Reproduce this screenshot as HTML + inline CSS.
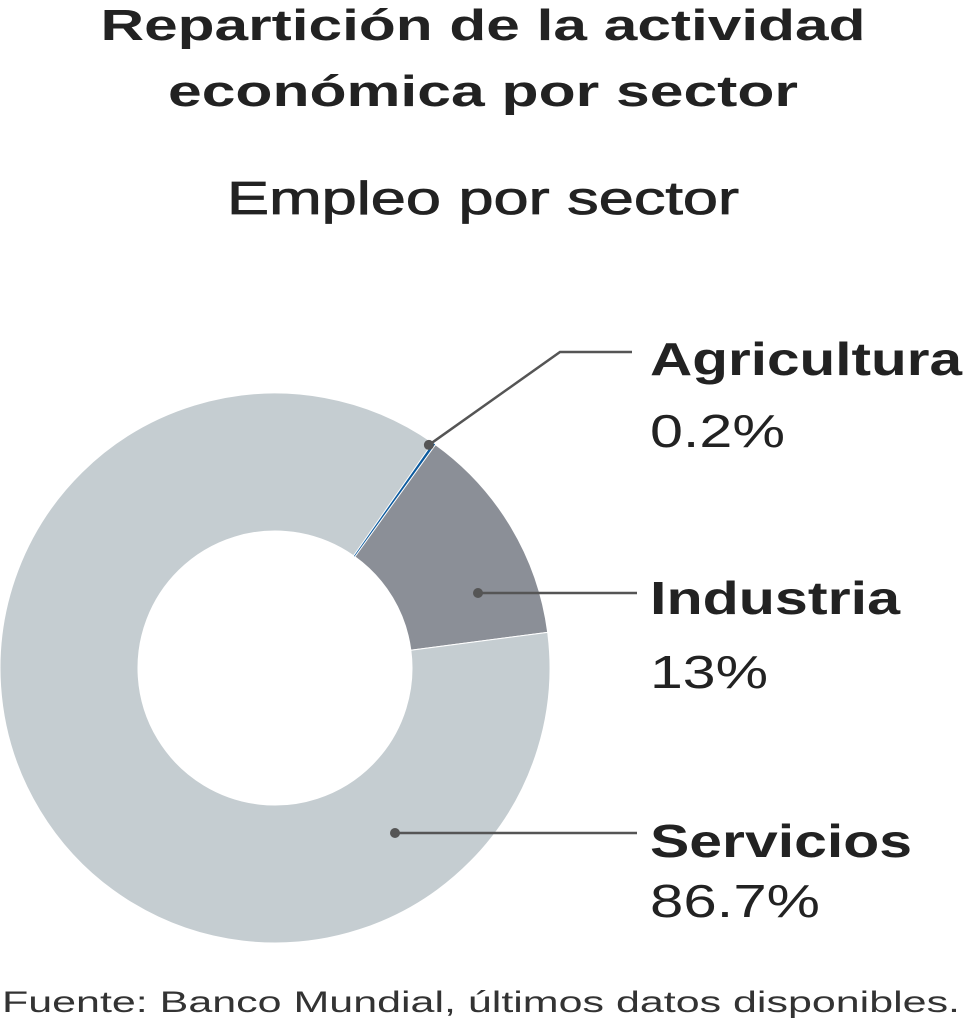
<!DOCTYPE html>
<html><head><meta charset="utf-8"><style>
html,body{margin:0;padding:0;background:#fff;}
svg{display:block;font-family:"Liberation Sans",sans-serif;}
</style></head><body>
<svg id="chart" width="963" height="1024" viewBox="0 0 963 1024">
<text x="483" y="40" text-anchor="middle" font-size="44" font-weight="bold" fill="#222" textLength="765" lengthAdjust="spacingAndGlyphs">Repartición de la actividad</text>
<text x="483" y="106" text-anchor="middle" font-size="44" font-weight="bold" fill="#222" textLength="630" lengthAdjust="spacingAndGlyphs">económica por sector</text>
<text x="483" y="214" text-anchor="middle" font-size="46" fill="#222" stroke="#222" stroke-width="0.8" textLength="512" lengthAdjust="spacingAndGlyphs">Empleo por sector</text>
<g id="slices"></g>
<g id="labels"></g>
<text x="2" y="1012" font-size="30" fill="#333" textLength="958" lengthAdjust="spacingAndGlyphs">Fuente: Banco Mundial, últimos datos disponibles.</text>
</svg>
<script>
const categories = ["Agricultura", "Industria", "Servicios"];
const values = [0.2, 13, 86.7];
const valueLabels = ["0.2%", "13%", "86.7%"];
const colors = ["#0b5a9e", "#8b8f97", "#c5cdd1"];
const cx = 275, cy = 668, R = 275, r = 137, startDeg = 33.5;
const NS = "http://www.w3.org/2000/svg";
const total = values.reduce((a, b) => a + b, 0);
function pt(deg, rad) { const a = deg * Math.PI / 180; return [cx + rad * Math.sin(a), cy - rad * Math.cos(a)]; }
const sg = document.getElementById('slices'), lg = document.getElementById('labels');
let acc = startDeg;
const labelY = [352, 593, 833];
const dotX = [0, 478, 395];
const nameW = [312, 250, 262], valW = [135, 118, 170];
const textX = 650;
values.forEach((v, i) => {
  let span = v / total * 360;
  let drawSpan = Math.max(span, 2.2);
  const a0 = acc, a1 = acc + drawSpan;
  const [x0, y0] = pt(a0, R), [x1, y1] = pt(a1, R), [x2, y2] = pt(a1, r), [x3, y3] = pt(a0, r);
  const large = drawSpan > 180 ? 1 : 0;
  const p = document.createElementNS(NS, 'path');
  p.setAttribute('d', `M${x0},${y0} A${R},${R} 0 ${large} 1 ${x1},${y1} L${x2},${y2} A${r},${r} 0 ${large} 0 ${x3},${y3} Z`);
  p.setAttribute('fill', colors[i]);
  if (i > 0) { p.setAttribute('stroke', '#fff'); p.setAttribute('stroke-width', '1'); }
  
  
  sg.appendChild(p);
  const mid = a0 + drawSpan / 2;
  let dx, dy;
  if (i === 0) { [dx, dy] = pt(mid, R - 4); } else { dx = dotX[i]; dy = labelY[i]; }
  const line = document.createElementNS(NS, 'polyline');
  const pts = i === 0 ? `${dx},${dy} 560,${labelY[0]} 632,${labelY[0]}` : `${dx},${dy} 637,${dy}`;
  line.setAttribute('points', pts);
  line.setAttribute('fill', 'none');
  line.setAttribute('stroke', '#555');
  line.setAttribute('stroke-width', '2.5');
  
  
  lg.appendChild(line);
  const dot = document.createElementNS(NS, 'circle');
  dot.setAttribute('cx', dx); dot.setAttribute('cy', dy); dot.setAttribute('r', 5);
  dot.setAttribute('fill', '#555');
  
  
  lg.appendChild(dot);
  const ty = [375, 614, 857][i], vy = [447, 688, 917][i];
  const t = document.createElementNS(NS, 'text');
  t.setAttribute('x', textX); t.setAttribute('y', ty);
  t.setAttribute('font-size', '46'); t.setAttribute('font-weight', 'bold'); t.setAttribute('fill', '#222');
  t.setAttribute('textLength', nameW[i]); t.setAttribute('lengthAdjust', 'spacingAndGlyphs');
  t.textContent = categories[i];
  
  
  lg.appendChild(t);
  const tv = document.createElementNS(NS, 'text');
  tv.setAttribute('x', textX); tv.setAttribute('y', vy);
  tv.setAttribute('font-size', '46'); tv.setAttribute('fill', '#222');
  tv.setAttribute('textLength', valW[i]); tv.setAttribute('lengthAdjust', 'spacingAndGlyphs');
  tv.textContent = valueLabels[i];
  
  
  lg.appendChild(tv);
  acc += drawSpan;
});
</script>
</body></html>
